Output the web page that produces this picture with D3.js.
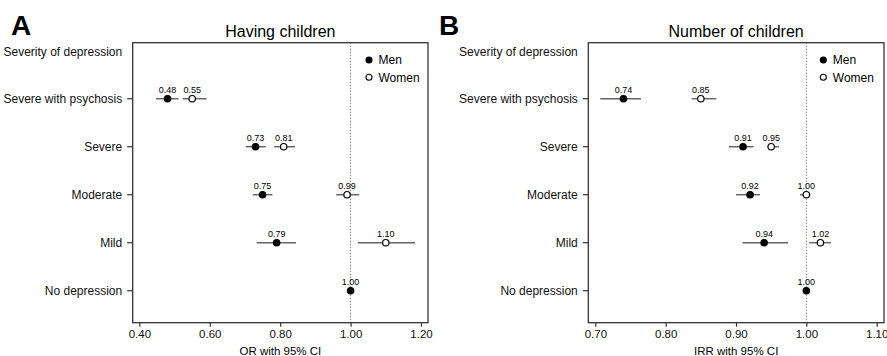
<!DOCTYPE html>
<html>
<head>
<meta charset="utf-8">
<script src="https://cdn.jsdelivr.net/npm/d3@7"></script>
<style>
  body { margin: 0; background: #fff; }
  svg { font-family: "Liberation Sans", Arial, sans-serif; }
</style>
</head>
<body>
<div id="chart"></div>
<script>
// Rows, top to bottom (first one is the header row, no marks)
var rows = ["Severity of depression", "Severe with psychosis", "Severe", "Moderate", "Mild", "No depression"];

// Panel A: Having children (OR)
var menOR     = [null, 0.48, 0.73, 0.75, 0.79, 1.00];
var menORlo   = [null, 0.447, 0.702, 0.722, 0.733, null];
var menORhi   = [null, 0.511, 0.759, 0.778, 0.845, null];
var womenOR   = [null, 0.55, 0.81, 0.99, 1.10, null];
var womenORlo = [null, 0.523, 0.783, 0.959, 1.021, null];
var womenORhi = [null, 0.591, 0.842, 1.025, 1.183, null];
var ticksA = [0.40, 0.60, 0.80, 1.00, 1.20];

// Panel B: Number of children (IRR)
var menIRR     = [null, 0.74, 0.91, 0.92, 0.94, 1.00];
var menIRRlo   = [null, 0.707, 0.890, 0.900, 0.909, null];
var menIRRhi   = [null, 0.765, 0.925, 0.934, 0.974, null];
var womenIRR   = [null, 0.85, 0.95, 1.00, 1.02, null];
var womenIRRlo = [null, 0.837, 0.945, 0.991, 1.004, null];
var womenIRRhi = [null, 0.872, 0.961, 1.006, 1.035, null];
var ticksB = [0.70, 0.80, 0.90, 1.00, 1.10];

var w = 887, h = 356;
var svg = d3.select("#chart").append("svg")
    .attr("width", w)
    .attr("height", h);

function drawPanel(p) {
  var g = svg.append("g");

  var x = d3.scaleLinear().domain(p.domain).range([p.left, p.right]);
  var y = d3.scaleLinear().domain([0, rows.length - 1]).range([50.7, 290.7]);

  // panel letter + title
  g.append("text")
      .attr("x", p.letterX).attr("y", 35)
      .attr("font-size", 28).attr("font-weight", "bold")
      .text(p.letter);
  g.append("text")
      .attr("x", (p.left + p.right) / 2).attr("y", 37)
      .attr("text-anchor", "middle")
      .attr("font-size", 16)
      .text(p.title);

  // reference line at 1
  g.append("line")
      .attr("x1", x(1)).attr("x2", x(1))
      .attr("y1", 42.7).attr("y2", 322.7)
      .attr("stroke", "#777").attr("stroke-width", 1)
      .attr("stroke-dasharray", "1.2,1.8");

  // box
  g.append("rect")
      .attr("x", p.left).attr("y", 42.7)
      .attr("width", p.right - p.left).attr("height", 280)
      .attr("fill", "none").attr("stroke", "#333").attr("stroke-width", 1.3);

  // x axis
  var xAxis = d3.axisBottom(x)
      .tickValues(p.ticks)
      .tickFormat(d3.format(".2f"))
      .tickSize(4).tickPadding(3);
  var ax = g.append("g")
      .attr("transform", "translate(0,322.7)")
      .call(xAxis);
  ax.select(".domain").remove();
  ax.selectAll(".tick line").attr("stroke", "#333").attr("stroke-width", 1.2);
  ax.selectAll(".tick text").attr("font-size", 11.5).attr("fill", "#111")
      .attr("font-family", "Liberation Sans, Arial, sans-serif");

  g.append("text")
      .attr("x", (p.left + p.right) / 2).attr("y", 354.5)
      .attr("text-anchor", "middle").attr("font-size", 11.5)
      .text(p.xTitle);

  // y labels
  rows.forEach(function(r, i) {
    if (i > 0) {
      g.append("line")
          .attr("x1", p.left - 5.5).attr("x2", p.left)
          .attr("y1", y(i)).attr("y2", y(i))
          .attr("stroke", "#333").attr("stroke-width", 1.2);
    }
    g.append("text")
        .attr("x", p.left - 10.5).attr("y", y(i) + (i == 0 ? 1.5 : 0))
        .attr("text-anchor", "end").attr("dy", "0.35em")
        .attr("font-size", 12).attr("fill", "#111")
        .text(r);
  });

  // series
  var series = [
    { est: p.men, lo: p.menLo, hi: p.menHi, fill: "#000" },
    { est: p.women, lo: p.womenLo, hi: p.womenHi, fill: "#fff" }
  ];
  series.forEach(function(s) {
    s.est.forEach(function(v, i) {
      if (v == null) return;
      if (s.lo[i] != null) {
        g.append("line")
            .attr("x1", x(s.lo[i])).attr("x2", x(s.hi[i]))
            .attr("y1", y(i)).attr("y2", y(i))
            .attr("stroke", "#666").attr("stroke-width", 1.5);
      }
      g.append("circle")
          .attr("cx", x(v)).attr("cy", y(i)).attr("r", 3.2)
          .attr("fill", s.fill).attr("stroke", "#000").attr("stroke-width", 1.2);
      g.append("text")
          .attr("x", x(v)).attr("y", y(i) - 5.5)
          .attr("text-anchor", "middle").attr("font-size", 9)
          .text(d3.format(".2f")(v));
    });
  });

  // legend
  var leg = [["Men", "#000"], ["Women", "#fff"]];
  leg.forEach(function(l, i) {
    g.append("circle")
        .attr("cx", p.legX).attr("cy", 60 + i * 17.3).attr("r", 3)
        .attr("fill", l[1]).attr("stroke", "#000").attr("stroke-width", 1.1);
    g.append("text")
        .attr("x", p.legX + 9.5).attr("y", 60 + i * 17.3)
        .attr("dy", "0.35em").attr("font-size", 12)
        .text(l[0]);
  });
}

drawPanel({
  letter: "A", letterX: 11, title: "Having children", xTitle: "OR with 95% CI",
  left: 132.7, right: 428, domain: [0.381, 1.2199], ticks: ticksA,
  men: menOR, menLo: menORlo, menHi: menORhi,
  women: womenOR, womenLo: womenORlo, womenHi: womenORhi,
  legX: 369
});

drawPanel({
  letter: "B", letterX: 439, title: "Number of children", xTitle: "IRR with 95% CI",
  left: 588.3, right: 884, domain: [0.690, 1.1104], ticks: ticksB,
  men: menIRR, menLo: menIRRlo, menHi: menIRRhi,
  women: womenIRR, womenLo: womenIRRlo, womenHi: womenIRRhi,
  legX: 823.3
});
</script>
</body>
</html>
